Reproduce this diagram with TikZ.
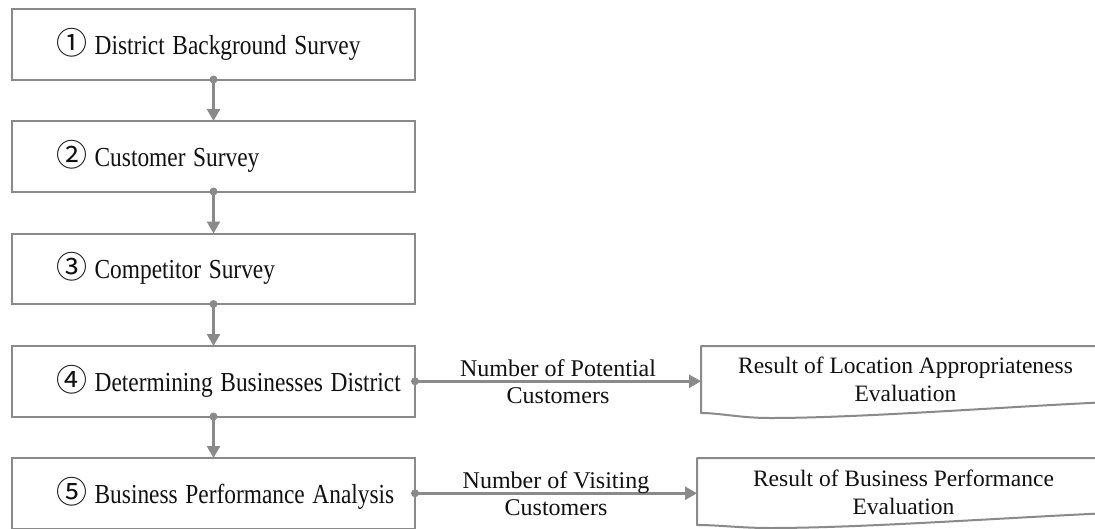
\documentclass[tikz,border=0pt]{standalone}
\usepackage{fontspec}
\usepackage{graphicx}
\setmainfont{Liberation Serif}
\newfontfamily\numfont{Noto Sans CJK SC}
\usetikzlibrary{arrows.meta}
\definecolor{ln}{RGB}{138,138,138}
\definecolor{tx}{RGB}{17,17,17}
\newcommand{\stxt}[2]{\mbox{{\numfont\fontsize{31}{31}\selectfont #1}\scalebox{0.85}[1]{\fontsize{27.5}{30}\selectfont\spaceskip=9pt\hspace*{9pt}#2}}}
\begin{document}
\begin{tikzpicture}[x=1pt,y=-1pt,
  stepbox/.style={draw=ln, line width=2pt, minimum width=403pt, minimum height=70.5pt,
    inner xsep=0pt, inner ysep=0pt, outer sep=0pt, text width=315pt, align=left,
    anchor=north west, text=tx},
  conn/.style={draw=ln, line width=2.5pt, -{Triangle[width=13pt,length=12pt]}},
  dot/.style={fill=ln},
  lbl/.style={align=center, inner sep=0pt, text=tx, font=\fontsize{24}{27}\selectfont},
  docbox/.style={inner sep=0pt, outer sep=0pt, align=center, text=tx,
    font=\fontsize{23.5}{28}\selectfont},
  docline/.style={draw=ln, line width=2pt, line join=round}]
\fill[white] (0,0) rectangle (1095,528);
\useasboundingbox (0,0) rectangle (1095,528);

\node[stepbox] (b1) at (12,9)     {\stxt{①}{District Background Survey}};
\node[stepbox] (b2) at (12,121)   {\stxt{②}{Customer Survey}};
\node[stepbox] (b3) at (12,233.5) {\stxt{③}{Competitor Survey}};
\node[stepbox] (b4) at (12,346)   {\stxt{④}{Determining Businesses District}};
\node[stepbox] (b5) at (12,458)   {\stxt{⑤}{Business Performance Analysis}};

\node[docbox, minimum width=409pt, minimum height=66pt] (d1) at (905.5,379)
  {Result of Location Appropriateness\\Evaluation};
\node[docbox, minimum width=413pt, minimum height=69pt] (d2) at (903.5,492.5)
  {Result of Business Performance\\Evaluation};

\draw[docline, shift={(d1.north west)}] (0,0) -- (409,0) -- (409,56)
  .. controls (299,61) and (159,72) .. (69,72)
  .. controls (39,72) and (19,67) .. (0,67) -- cycle;
\draw[docline, shift={(d2.north west)}] (0,0) -- (413,0) -- (413,55)
  .. controls (303,60) and (163,70) .. (73,70)
  .. controls (43,70) and (23,67) .. (0,67) -- cycle;

\foreach \a/\b in {b1/b2,b2/b3,b3/b4,b4/b5}{
  \draw[conn] (\a.south) -- (\b.north);
  \fill[dot] (\a.south) circle (4pt);
}

\draw[conn] (b4.east) -- node[lbl] (l1) {Number of Potential\\Customers} (d1.west |- b4.east);
\fill[dot] (b4.east) circle (4pt);
\draw[conn] (b5.east) -- node[lbl] (l2) {Number of Visiting\\Customers} (d2.west |- b5.east);
\fill[dot] (b5.east) circle (4pt);
\end{tikzpicture}
\end{document}
